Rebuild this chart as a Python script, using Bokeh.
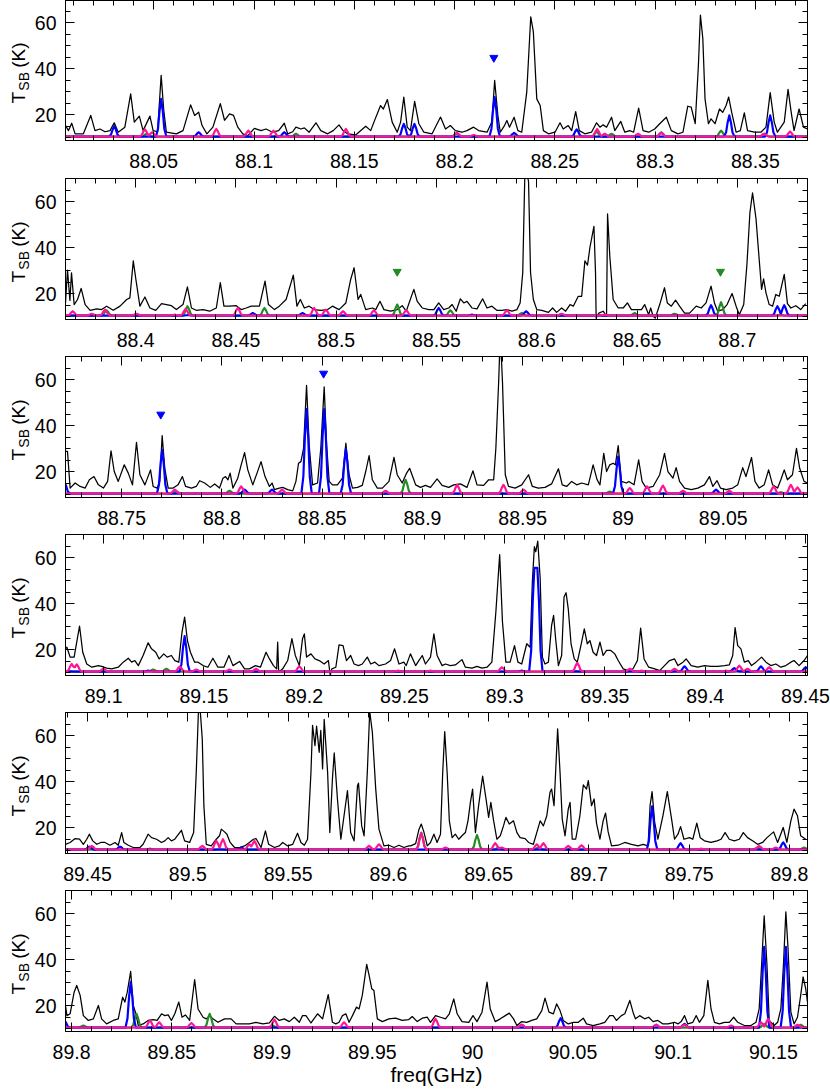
import math
import numpy as np
from bokeh.plotting import figure
from bokeh.models import (Range1d, LinearAxis, SingleIntervalTicker,
                          CustomJSTickFormatter)
from bokeh.core.properties import value
from bokeh.layouts import column, row
from bokeh.embed import file_html
from bokeh.resources import INLINE

FONT = "Liberation Sans"

# ---------------- data (freq in GHz, T_SB in K) ----------------
PANEL_START = [88.006, 88.365, 88.722, 89.081, 89.439, 89.797]
PANEL_SPAN = 0.37
MODEL_BASE = 10.4

SPEC_1 = [(88.0060, 15.2), (88.0075, 13.0), (88.0091, 16.2), (88.0108, 11.6), (88.0149, 11.6), (88.0186, 19.6), (88.0207, 13.0), (88.0232, 13.7), (88.0257, 12.5), (88.0282, 13.0),
          (88.0303, 16.4), (88.0323, 12.3), (88.0356, 14.5), (88.0385, 29.0), (88.0403, 16.7), (88.0428, 19.3), (88.0447, 13.0), (88.0481, 19.3), (88.0497, 13.0), (88.0519, 12.5),
          (88.0537, 37.0), (88.0550, 21.7), (88.0563, 12.3), (88.0613, 11.6), (88.0646, 13.0), (88.0684, 24.2), (88.0704, 19.6), (88.0724, 21.0), (88.0741, 15.2), (88.0765, 11.6),
          (88.0795, 14.5), (88.0832, 24.7), (88.0853, 17.5), (88.0878, 20.3), (88.0898, 19.6), (88.0919, 14.5), (88.0944, 11.6), (88.0969, 10.8), (88.1002, 14.0), (88.1035, 13.0),
          (88.1060, 13.7), (88.1093, 12.3), (88.1123, 13.0), (88.1151, 16.2), (88.1168, 11.6), (88.1193, 12.5), (88.1209, 14.5), (88.1234, 13.7), (88.1251, 14.2), (88.1275, 12.3),
          (88.1309, 16.4), (88.1333, 13.0), (88.1367, 11.6), (88.1395, 13.0), (88.1424, 15.5), (88.1444, 13.0), (88.1466, 11.6), (88.1507, 11.1), (88.1557, 14.9), (88.1582, 13.0),
          (88.1598, 16.7), (88.1631, 23.9), (88.1645, 22.4), (88.1665, 26.5), (88.1689, 16.7), (88.1714, 12.3), (88.1731, 16.7), (88.1747, 27.6), (88.1764, 14.5), (88.1780, 13.0),
          (88.1801, 25.7), (88.1822, 16.0), (88.1847, 12.3), (88.1888, 11.6), (88.1930, 18.9), (88.1955, 13.7), (88.1979, 15.2), (88.2004, 13.0), (88.2037, 12.3), (88.2062, 13.0),
          (88.2095, 14.5), (88.2120, 13.0), (88.2162, 12.3), (88.2186, 16.7), (88.2200, 34.8), (88.2216, 19.6), (88.2228, 12.3), (88.2249, 15.2), (88.2261, 17.4), (88.2274, 14.5),
          (88.2297, 18.8), (88.2316, 13.0), (88.2335, 12.3), (88.2360, 29.7), (88.2380, 62.5), (88.2393, 55.9), (88.2410, 26.8), (88.2427, 23.9), (88.2443, 13.0), (88.2468, 11.6),
          (88.2501, 12.3), (88.2526, 16.4), (88.2542, 13.7), (88.2567, 15.2), (88.2584, 13.0), (88.2604, 21.3), (88.2622, 13.0), (88.2650, 11.6), (88.2683, 12.3), (88.2708, 16.4),
          (88.2725, 14.5), (88.2741, 15.5), (88.2758, 14.5), (88.2783, 18.8), (88.2799, 13.0), (88.2829, 17.0), (88.2849, 12.3), (88.2874, 13.0), (88.2893, 12.3), (88.2918, 22.8),
          (88.2940, 13.0), (88.2968, 12.3), (88.2998, 13.7), (88.3023, 16.0), (88.3056, 18.8), (88.3081, 13.0), (88.3114, 11.6), (88.3139, 12.3), (88.3163, 23.6), (88.3180, 23.2),
          (88.3200, 16.0), (88.3216, 41.4), (88.3226, 63.2), (88.3238, 53.0), (88.3249, 26.8), (88.3266, 16.0), (88.3279, 18.1), (88.3299, 16.0), (88.3321, 22.4), (88.3337, 20.9),
          (88.3354, 23.9), (88.3367, 27.6), (88.3382, 20.9), (88.3404, 12.3), (88.3425, 13.0), (88.3445, 20.7), (88.3461, 13.0), (88.3495, 12.3), (88.3528, 12.3), (88.3553, 14.5),
          (88.3574, 29.5), (88.3594, 16.7), (88.3610, 12.3), (88.3644, 16.7), (88.3663, 30.9), (88.3680, 20.2), (88.3693, 13.0), (88.3718, 22.4), (88.3740, 14.5), (88.3760, 13.7)]

SPEC_2 = [(88.3650, 15.9), (88.3660, 30.2), (88.3672, 17.0), (88.3680, 29.0), (88.3693, 15.2), (88.3710, 17.4), (88.3728, 22.2), (88.3748, 15.2), (88.3773, 12.7), (88.3806, 13.3),
          (88.3830, 13.0), (88.3855, 14.5), (88.3888, 12.7), (88.3922, 14.5), (88.3955, 17.4), (88.3971, 18.1), (88.3988, 34.2), (88.4001, 26.1), (88.4021, 14.5), (88.4046, 18.5),
          (88.4071, 13.7), (88.4100, 12.7), (88.4129, 15.6), (88.4153, 15.2), (88.4178, 14.7), (88.4203, 13.0), (88.4236, 15.2), (88.4258, 22.9), (88.4278, 13.7), (88.4302, 12.7),
          (88.4336, 13.0), (88.4369, 12.3), (88.4402, 13.7), (88.4422, 24.7), (88.4440, 14.5), (88.4468, 14.5), (88.4501, 14.7), (88.4526, 13.0), (88.4551, 13.7), (88.4576, 14.5),
          (88.4617, 14.5), (88.4645, 25.4), (88.4662, 15.2), (88.4692, 13.0), (88.4716, 14.5), (88.4750, 17.4), (88.4786, 28.0), (88.4804, 14.5), (88.4821, 17.4), (88.4841, 13.7),
          (88.4865, 14.5), (88.4890, 13.0), (88.4923, 12.7), (88.4957, 13.0), (88.4981, 14.5), (88.5014, 13.0), (88.5048, 15.9), (88.5072, 26.1), (88.5089, 31.2), (88.5109, 17.4),
          (88.5122, 19.6), (88.5147, 13.0), (88.5180, 13.7), (88.5197, 13.0), (88.5218, 16.6), (88.5238, 13.0), (88.5271, 12.3), (88.5304, 13.0), (88.5329, 14.7), (88.5349, 12.3),
          (88.5387, 21.8), (88.5404, 16.6), (88.5429, 13.7), (88.5462, 13.0), (88.5487, 13.0), (88.5511, 15.9), (88.5536, 13.0), (88.5561, 13.7), (88.5578, 15.2), (88.5598, 12.3),
          (88.5619, 17.7), (88.5636, 15.9), (88.5652, 16.6), (88.5677, 13.7), (88.5702, 13.3), (88.5730, 17.7), (88.5752, 13.7), (88.5776, 14.5), (88.5801, 12.7), (88.5826, 12.7),
          (88.5851, 13.0), (88.5876, 12.3), (88.5901, 13.0), (88.5917, 15.9), (88.5930, 29.0), (88.5942, 78.0), (88.5959, 68.5), (88.5969, 29.0), (88.5983, 17.4), (88.6000, 13.0),
          (88.6025, 12.7), (88.6058, 11.8), (88.6079, 13.7), (88.6099, 11.8), (88.6124, 13.7), (88.6144, 12.3), (88.6166, 15.2), (88.6182, 14.5), (88.6207, 18.8), (88.6224, 18.8),
          (88.6240, 34.2), (88.6253, 32.3), (88.6265, 40.0), (88.6285, 49.2), (88.6293, 29.0), (88.6296, 9.3), (88.6310, 11.5), (88.6331, 12.3), (88.6348, 10.1), (88.6353, 54.6),
          (88.6364, 36.4), (88.6381, 17.4), (88.6406, 13.7), (88.6431, 13.7), (88.6452, 15.9), (88.6472, 13.0), (88.6497, 13.0), (88.6522, 13.0), (88.6538, 15.2), (88.6558, 10.8),
          (88.6568, 13.7), (88.6580, 10.1), (88.6591, 9.3), (88.6613, 15.2), (88.6637, 22.5), (88.6651, 15.9), (88.6671, 14.5), (88.6692, 17.1), (88.6712, 14.5), (88.6737, 11.5),
          (88.6762, 11.5), (88.6795, 14.5), (88.6820, 13.7), (88.6844, 15.9), (88.6869, 23.2), (88.6886, 15.9), (88.6902, 12.3), (88.6927, 13.0), (88.6949, 15.2), (88.6974, 20.0),
          (88.6994, 14.5), (88.7010, 10.8), (88.7032, 15.2), (88.7048, 32.7), (88.7063, 55.3), (88.7076, 63.8), (88.7093, 52.7), (88.7109, 34.9), (88.7121, 21.8), (88.7131, 26.4),
          (88.7143, 20.3), (88.7159, 15.2), (88.7176, 14.5), (88.7192, 19.6), (88.7209, 18.8), (88.7234, 28.3), (88.7250, 15.6), (88.7267, 13.7), (88.7292, 14.7), (88.7316, 13.0),
          (88.7341, 15.6)]

SPEC_3 = [(88.7220, 28.7), (88.7230, 28.7), (88.7243, 12.8), (88.7268, 15.0), (88.7293, 13.5), (88.7318, 12.8), (88.7339, 16.4), (88.7362, 17.8), (88.7384, 14.2), (88.7409, 12.8),
          (88.7430, 15.7), (88.7447, 29.0), (88.7463, 20.0), (88.7483, 15.7), (88.7513, 22.9), (88.7533, 19.3), (88.7554, 14.2), (88.7574, 32.7), (88.7591, 18.6), (88.7616, 14.2),
          (88.7644, 20.7), (88.7657, 13.5), (88.7677, 12.8), (88.7690, 15.7), (88.7702, 35.6), (88.7715, 21.4), (88.7732, 12.8), (88.7757, 12.8), (88.7781, 14.2), (88.7803, 17.8),
          (88.7819, 13.5), (88.7848, 12.8), (88.7872, 13.5), (88.7889, 16.0), (88.7914, 15.0), (88.7942, 13.1), (88.7964, 14.6), (88.7988, 12.8), (88.8005, 17.1), (88.8018, 17.8),
          (88.8030, 16.4), (88.8041, 19.3), (88.8055, 12.8), (88.8079, 17.1), (88.8096, 22.9), (88.8113, 28.2), (88.8129, 20.7), (88.8154, 14.2), (88.8175, 19.3), (88.8195, 24.3),
          (88.8215, 17.8), (88.8237, 13.5), (88.8250, 15.0), (88.8262, 12.1), (88.8286, 12.8), (88.8303, 13.1), (88.8328, 12.1), (88.8353, 11.6), (88.8369, 15.7), (88.8382, 23.6),
          (88.8394, 24.3), (88.8407, 30.1), (88.8422, 57.5), (88.8435, 31.6), (88.8452, 14.2), (88.8477, 15.0), (88.8493, 30.1), (88.8510, 56.8), (88.8522, 31.6), (88.8535, 15.7),
          (88.8551, 14.2), (88.8576, 14.2), (88.8601, 17.1), (88.8618, 32.3), (88.8634, 18.6), (88.8651, 12.8), (88.8676, 13.1), (88.8700, 14.0), (88.8717, 20.0), (88.8734, 26.9),
          (88.8750, 16.4), (88.8775, 12.8), (88.8800, 12.8), (88.8833, 15.7), (88.8858, 26.1), (88.8874, 18.6), (88.8899, 15.0), (88.8921, 19.3), (88.8936, 21.4), (88.8957, 16.4),
          (88.8966, 14.2), (88.8990, 13.1), (88.9015, 14.0), (88.9040, 13.1), (88.9073, 16.8), (88.9098, 14.0), (88.9131, 13.1), (88.9156, 14.2), (88.9189, 14.6), (88.9222, 13.1),
          (88.9252, 20.3), (88.9272, 14.2), (88.9305, 14.0), (88.9330, 16.4), (88.9355, 16.4), (88.9366, 30.1), (88.9380, 59.0), (88.9388, 80.0), (88.9399, 59.0), (88.9413, 18.6),
          (88.9429, 13.5), (88.9462, 12.8), (88.9495, 14.2), (88.9529, 18.6), (88.9548, 13.5), (88.9578, 12.8), (88.9611, 13.1), (88.9644, 14.6), (88.9678, 21.2), (88.9697, 14.2),
          (88.9719, 13.5), (88.9744, 15.7), (88.9769, 14.2), (88.9794, 15.0), (88.9827, 14.2), (88.9851, 22.9), (88.9871, 16.4), (88.9885, 14.2), (88.9904, 27.9), (88.9918, 20.0),
          (88.9934, 22.9), (88.9951, 23.6), (88.9962, 22.9), (88.9976, 31.3), (88.9992, 15.7), (89.0017, 15.0), (89.0029, 15.7), (89.0055, 14.2), (89.0078, 25.1), (89.0095, 15.7),
          (89.0116, 12.8), (89.0150, 13.5), (89.0183, 18.6), (89.0207, 27.9), (89.0224, 20.0), (89.0249, 17.1), (89.0265, 21.7), (89.0282, 15.7), (89.0307, 12.8), (89.0340, 12.1),
          (89.0373, 12.8), (89.0406, 14.2), (89.0431, 17.8), (89.0448, 13.5), (89.0469, 16.0), (89.0486, 12.8), (89.0514, 12.1), (89.0547, 12.8), (89.0572, 14.2), (89.0597, 21.7),
          (89.0613, 17.8), (89.0641, 26.1), (89.0658, 15.7), (89.0679, 12.8), (89.0704, 14.2), (89.0726, 20.7), (89.0746, 14.2), (89.0771, 12.8), (89.0787, 16.4), (89.0804, 20.7),
          (89.0820, 16.4), (89.0845, 18.6), (89.0865, 30.1), (89.0881, 21.4), (89.0903, 15.7), (89.0920, 15.0)]

SPEC_4 = [(89.0810, 20.3), (89.0817, 21.0), (89.0833, 16.7), (89.0853, 16.7), (89.0866, 23.2), (89.0880, 30.2), (89.0896, 18.8), (89.0916, 13.7), (89.0941, 12.3), (89.0974, 13.0),
          (89.0990, 12.7), (89.1015, 11.9), (89.1040, 11.6), (89.1073, 12.3), (89.1098, 14.5), (89.1123, 16.2), (89.1140, 14.5), (89.1156, 15.2), (89.1173, 13.0), (89.1197, 17.4),
          (89.1222, 22.9), (89.1239, 20.3), (89.1260, 18.8), (89.1277, 15.9), (89.1300, 18.1), (89.1317, 16.7), (89.1338, 17.4), (89.1355, 15.2), (89.1375, 14.5), (89.1391, 27.6),
          (89.1404, 34.1), (89.1418, 23.9), (89.1433, 18.8), (89.1454, 14.5), (89.1471, 14.5), (89.1496, 13.0), (89.1520, 12.3), (89.1545, 16.2), (89.1570, 12.3), (89.1600, 12.3),
          (89.1625, 17.4), (89.1645, 13.0), (89.1678, 14.8), (89.1703, 11.6), (89.1727, 11.6), (89.1757, 13.0), (89.1782, 12.3), (89.1810, 18.8), (89.1827, 15.9), (89.1847, 13.0),
          (89.1863, 11.6), (89.1868, 23.2), (89.1873, 10.1), (89.1893, 11.6), (89.1918, 15.2), (89.1939, 24.7), (89.1956, 17.4), (89.1976, 13.0), (89.1992, 24.7), (89.2001, 26.8),
          (89.2012, 16.7), (89.2034, 18.1), (89.2054, 15.9), (89.2075, 15.2), (89.2100, 13.7), (89.2121, 15.2), (89.2130, 8.7), (89.2138, 11.6), (89.2158, 12.3), (89.2174, 22.0),
          (89.2194, 21.7), (89.2211, 15.2), (89.2232, 17.4), (89.2249, 13.7), (89.2271, 13.0), (89.2290, 13.7), (89.2315, 16.7), (89.2332, 13.7), (89.2353, 14.5), (89.2373, 13.0),
          (89.2406, 13.7), (89.2431, 15.2), (89.2451, 20.3), (89.2473, 13.7), (89.2497, 14.5), (89.2509, 13.0), (89.2530, 18.1), (89.2556, 13.0), (89.2572, 15.2), (89.2589, 17.4),
          (89.2605, 13.7), (89.2630, 16.7), (89.2647, 26.8), (89.2663, 17.4), (89.2688, 13.0), (89.2705, 13.7), (89.2729, 13.0), (89.2754, 13.3), (89.2787, 15.6), (89.2804, 12.3),
          (89.2837, 11.9), (89.2862, 12.7), (89.2887, 11.9), (89.2912, 12.3), (89.2936, 14.5), (89.2956, 36.3), (89.2975, 61.3), (89.2989, 31.9), (89.3006, 14.5), (89.3027, 14.5),
          (89.3049, 21.7), (89.3066, 14.5), (89.3085, 13.7), (89.3110, 22.5), (89.3127, 21.0), (89.3138, 49.4), (89.3148, 64.7), (89.3155, 62.5), (89.3165, 67.1), (89.3177, 50.8),
          (89.3188, 16.7), (89.3201, 13.7), (89.3218, 14.5), (89.3234, 30.5), (89.3244, 34.8), (89.3254, 24.7), (89.3268, 13.0), (89.3284, 17.4), (89.3296, 42.8), (89.3306, 44.7),
          (89.3317, 37.7), (89.3331, 22.5), (89.3347, 15.9), (89.3362, 14.5), (89.3380, 21.7), (89.3397, 29.0), (89.3412, 22.5), (89.3425, 23.9), (89.3441, 18.8), (89.3458, 17.4),
          (89.3475, 23.2), (89.3491, 17.4), (89.3508, 19.6), (89.3529, 19.6), (89.3549, 18.1), (89.3566, 15.2), (89.3591, 11.6), (89.3615, 10.8), (89.3640, 11.6), (89.3662, 15.2),
          (89.3678, 29.3), (89.3695, 15.9), (89.3718, 12.3), (89.3748, 11.6), (89.3773, 10.8), (89.3797, 13.0), (89.3822, 15.2), (89.3847, 15.9), (89.3864, 13.0), (89.3889, 14.5),
          (89.3905, 15.9), (89.3930, 13.0), (89.3963, 12.3), (89.3996, 13.0), (89.4029, 12.7), (89.4062, 12.7), (89.4096, 13.0), (89.4120, 13.3), (89.4137, 17.4), (89.4149, 29.5),
          (89.4162, 21.7), (89.4178, 20.3), (89.4195, 14.5), (89.4215, 15.2), (89.4231, 13.0), (89.4253, 14.5), (89.4281, 16.7), (89.4303, 14.5), (89.4327, 13.0), (89.4352, 13.7),
          (89.4377, 12.3), (89.4402, 13.0), (89.4427, 14.5), (89.4443, 15.2), (89.4468, 13.0), (89.4493, 15.2), (89.4510, 17.4)]

SPEC_5 = [(89.4390, 12.7), (89.4413, 13.5), (89.4438, 15.2), (89.4460, 14.9), (89.4479, 12.7), (89.4496, 14.9), (89.4509, 17.1), (89.4526, 14.2), (89.4546, 12.7), (89.4566, 13.5),
          (89.4587, 13.5), (89.4612, 12.3), (89.4637, 13.5), (89.4653, 12.3), (89.4670, 17.8), (89.4681, 13.5), (89.4703, 12.3), (89.4728, 11.3), (89.4761, 11.3), (89.4777, 12.7),
          (89.4802, 17.1), (89.4819, 15.6), (89.4844, 14.9), (89.4869, 13.5), (89.4885, 14.2), (89.4902, 15.6), (89.4918, 14.2), (89.4935, 14.9), (89.4968, 18.8), (89.4984, 14.2),
          (89.5009, 13.5), (89.5029, 17.8), (89.5042, 44.0), (89.5056, 78.0), (89.5072, 58.5), (89.5080, 29.5), (89.5092, 12.7), (89.5117, 12.0), (89.5142, 14.9), (89.5158, 16.4),
          (89.5167, 19.3), (89.5183, 18.1), (89.5195, 17.1), (89.5211, 13.5), (89.5233, 11.3), (89.5258, 11.3), (89.5283, 12.0), (89.5307, 13.5), (89.5327, 14.9), (89.5340, 15.2),
          (89.5365, 11.3), (89.5387, 18.5), (89.5403, 12.7), (89.5432, 11.3), (89.5456, 12.0), (89.5473, 13.5), (89.5498, 12.0), (89.5523, 12.7), (89.5547, 17.5), (89.5564, 13.5),
          (89.5581, 12.3), (89.5597, 14.9), (89.5614, 44.0), (89.5622, 64.4), (89.5634, 55.6), (89.5642, 64.1), (89.5655, 52.7), (89.5663, 62.2), (89.5672, 45.5), (89.5680, 67.0),
          (89.5697, 44.0), (89.5708, 17.8), (89.5721, 41.1), (89.5730, 52.4), (89.5746, 32.4), (89.5763, 14.9), (89.5779, 25.1), (89.5796, 36.0), (89.5812, 17.8), (89.5829, 14.2),
          (89.5846, 38.2), (89.5851, 39.3), (89.5867, 20.7), (89.5879, 16.4), (89.5895, 44.0), (89.5907, 70.5), (89.5920, 61.5), (89.5937, 36.7), (89.5953, 19.3), (89.5978, 12.0),
          (89.6003, 12.3), (89.6028, 11.3), (89.6053, 12.3), (89.6077, 11.3), (89.6102, 12.0), (89.6111, 12.0), (89.6136, 13.0), (89.6152, 19.0), (89.6164, 21.5), (89.6177, 18.1),
          (89.6194, 12.0), (89.6210, 13.5), (89.6227, 17.1), (89.6243, 13.5), (89.6260, 17.1), (89.6271, 44.0), (89.6281, 61.7), (89.6293, 44.0), (89.6304, 22.9), (89.6318, 15.6),
          (89.6334, 17.1), (89.6351, 14.9), (89.6367, 16.4), (89.6384, 17.8), (89.6397, 22.9), (89.6409, 30.9), (89.6420, 36.7), (89.6434, 17.8), (89.6450, 29.5), (89.6470, 42.3),
          (89.6487, 32.4), (89.6500, 24.4), (89.6511, 30.9), (89.6525, 22.9), (89.6541, 14.9), (89.6558, 16.4), (89.6574, 20.7), (89.6586, 24.4), (89.6603, 21.5), (89.6624, 22.9),
          (89.6641, 17.8), (89.6657, 15.6), (89.6682, 15.2), (89.6699, 13.5), (89.6723, 12.7), (89.6740, 17.8), (89.6757, 22.9), (89.6773, 20.7), (89.6790, 25.1), (89.6806, 35.3),
          (89.6814, 36.7), (89.6826, 29.5), (89.6834, 44.0), (89.6844, 62.9), (89.6856, 44.0), (89.6867, 23.6), (89.6881, 16.4), (89.6897, 28.0), (89.6906, 30.9), (89.6917, 14.9),
          (89.6934, 14.9), (89.6955, 25.1), (89.6972, 38.5), (89.6988, 36.7), (89.6997, 40.4), (89.7013, 29.5), (89.7026, 32.4), (89.7038, 21.8), (89.7055, 14.9), (89.7071, 22.9),
          (89.7083, 26.3), (89.7096, 18.1), (89.7113, 12.0), (89.7146, 12.3), (89.7179, 13.5), (89.7212, 12.7), (89.7245, 12.0), (89.7270, 12.7), (89.7295, 12.0), (89.7305, 29.5),
          (89.7315, 35.6), (89.7328, 22.2), (89.7344, 14.9), (89.7369, 25.1), (89.7391, 35.6), (89.7411, 24.4), (89.7427, 14.9), (89.7444, 17.1), (89.7457, 20.4), (89.7474, 14.9),
          (89.7502, 15.6), (89.7518, 14.9), (89.7538, 21.9), (89.7555, 15.6), (89.7576, 14.2), (89.7609, 13.5), (89.7639, 14.2), (89.7659, 14.9), (89.7679, 17.8), (89.7700, 14.9),
          (89.7725, 14.2), (89.7750, 14.9), (89.7770, 17.8), (89.7791, 15.6), (89.7816, 14.2), (89.7841, 12.7), (89.7866, 13.5), (89.7888, 15.6), (89.7921, 18.1), (89.7941, 13.5),
          (89.7969, 20.0), (89.7987, 13.5), (89.8007, 22.9), (89.8023, 28.0), (89.8040, 25.1), (89.8056, 16.4), (89.8081, 14.9)]

SPEC_6 = [(89.7970, 20.0), (89.7977, 15.6), (89.7993, 16.4), (89.8013, 25.8), (89.8026, 28.7), (89.8043, 24.4), (89.8059, 15.6), (89.8084, 13.5), (89.8109, 14.2), (89.8134, 20.0),
          (89.8150, 14.2), (89.8175, 12.0), (89.8208, 13.5), (89.8233, 14.2), (89.8255, 23.6), (89.8266, 21.5), (89.8278, 25.8), (89.8295, 34.8), (89.8308, 20.0), (89.8321, 16.4),
          (89.8333, 11.3), (89.8357, 12.0), (89.8382, 13.5), (89.8407, 13.9), (89.8427, 13.5), (89.8449, 16.4), (89.8465, 15.6), (89.8482, 15.9), (89.8498, 13.5), (89.8515, 16.4),
          (89.8535, 21.5), (89.8551, 14.9), (89.8568, 15.9), (89.8589, 13.5), (89.8614, 31.3), (89.8631, 18.5), (89.8656, 14.9), (89.8672, 14.2), (89.8689, 15.6), (89.8705, 14.2),
          (89.8730, 12.7), (89.8763, 14.2), (89.8796, 14.2), (89.8821, 12.0), (89.8854, 12.0), (89.8887, 12.0), (89.8920, 12.7), (89.8954, 12.0), (89.8987, 12.4), (89.9012, 15.3),
          (89.9036, 13.5), (89.9061, 14.2), (89.9086, 13.0), (89.9111, 14.9), (89.9136, 12.7), (89.9152, 15.6), (89.9169, 15.6), (89.9194, 12.4), (89.9227, 16.4), (89.9252, 14.2),
          (89.9280, 24.7), (89.9301, 12.7), (89.9318, 12.0), (89.9334, 12.7), (89.9351, 15.6), (89.9368, 16.4), (89.9384, 12.7), (89.9401, 15.6), (89.9421, 19.3), (89.9434, 18.5),
          (89.9450, 24.4), (89.9472, 37.9), (89.9484, 33.1), (89.9497, 27.3), (89.9508, 26.5), (89.9525, 14.2), (89.9550, 13.0), (89.9583, 14.2), (89.9616, 14.5), (89.9649, 13.5),
          (89.9682, 13.9), (89.9699, 15.2), (89.9724, 13.0), (89.9749, 14.5), (89.9774, 14.9), (89.9790, 12.7), (89.9815, 15.6), (89.9840, 14.9), (89.9865, 14.2), (89.9884, 16.4),
          (89.9906, 22.9), (89.9923, 16.4), (89.9947, 13.0), (89.9981, 12.7), (90.0002, 15.6), (90.0022, 13.0), (90.0047, 17.1), (90.0072, 30.2), (90.0088, 18.5), (90.0113, 13.0),
          (90.0138, 14.2), (90.0163, 15.6), (90.0183, 16.7), (90.0204, 14.2), (90.0221, 11.3), (90.0245, 13.0), (90.0270, 12.7), (90.0295, 13.5), (90.0320, 14.2), (90.0345, 17.8),
          (90.0361, 23.2), (90.0381, 17.1), (90.0403, 16.4), (90.0419, 20.7), (90.0436, 17.8), (90.0452, 13.5), (90.0477, 12.0), (90.0502, 12.7), (90.0527, 12.7), (90.0552, 14.5),
          (90.0568, 12.0), (90.0601, 11.3), (90.0635, 12.0), (90.0659, 12.7), (90.0684, 15.6), (90.0701, 15.6), (90.0717, 13.5), (90.0742, 15.6), (90.0759, 16.4), (90.0784, 22.2),
          (90.0800, 17.1), (90.0812, 14.2), (90.0833, 15.6), (90.0858, 14.2), (90.0878, 14.9), (90.0900, 13.0), (90.0924, 13.5), (90.0949, 12.0), (90.0974, 12.0), (90.1007, 12.7),
          (90.1024, 12.0), (90.1040, 13.0), (90.1057, 15.6), (90.1073, 12.0), (90.1098, 12.7), (90.1115, 15.6), (90.1131, 12.7), (90.1153, 15.6), (90.1173, 30.9), (90.1189, 18.5),
          (90.1206, 12.7), (90.1231, 12.0), (90.1256, 12.7), (90.1280, 12.7), (90.1302, 14.9), (90.1322, 12.7), (90.1355, 11.3), (90.1388, 11.3), (90.1413, 12.7), (90.1429, 18.5),
          (90.1441, 37.5), (90.1454, 59.0), (90.1468, 37.5), (90.1479, 13.5), (90.1504, 11.3), (90.1521, 12.7), (90.1537, 18.5), (90.1550, 37.5), (90.1562, 60.7), (90.1573, 44.7),
          (90.1587, 17.1), (90.1603, 12.0), (90.1620, 14.9), (90.1636, 24.4), (90.1648, 32.4), (90.1661, 27.3), (90.1670, 21.5)]

# model line peaks: (freq, T) or (freq_start, T, freq_end) for a flat-topped line
BLUE_1 = [(88.0303, 14.9), (88.0537, 26.8), (88.0724, 12.3), (88.1151, 12.3), (88.1747, 15.9), (88.1800, 15.9),
          (88.2200, 27.6), (88.2297, 12.0), (88.2609, 13.5), (88.3370, 19.6), (88.3574, 19.6)]
GREEN_1 = [(88.0464, 11.6), (88.1209, 11.6), (88.2009, 11.9), (88.2708, 12.6), (88.2783, 11.6), (88.3031, 12.3),
           (88.3329, 13.0), (88.3544, 11.6)]
MAGENTA_1 = [(88.0456, 13.5), (88.0492, 12.3), (88.0812, 13.7), (88.0972, 13.0), (88.1097, 13.0), (88.1458, 13.7),
             (88.2013, 12.0), (88.2095, 11.1), (88.2711, 13.7), (88.2749, 11.6), (88.2915, 11.6), (88.3031, 12.0),
             (88.3544, 11.6), (88.3673, 12.6)]

BLUE_2 = [(88.4261, 10.6), (88.4584, 11.5), (88.4832, 11.5), (88.5511, 13.7), (88.5677, 10.8), (88.5947, 12.3),
          (88.6869, 14.9), (88.7200, 14.5), (88.7234, 14.9)]
GREEN_2 = [(88.3855, 12.7), (88.4258, 14.5), (88.4642, 13.7), (88.5304, 15.2), (88.5569, 12.7), (88.5925, 11.5),
           (88.6488, 11.5), (88.6687, 11.2), (88.6919, 16.2), (88.7217, 10.8)]
MAGENTA_2 = [(88.3686, 12.3), (88.3781, 11.2), (88.3847, 13.0), (88.4004, 11.2), (88.4195, 10.8), (88.4249, 13.3),
             (88.4509, 13.7), (88.4890, 13.7), (88.4948, 13.0), (88.5034, 12.3), (88.5188, 12.7), (88.5349, 12.7),
             (88.5851, 12.7), (88.6124, 11.2), (88.6339, 10.8)]

BLUE_3 = [(88.7215, 15.4), (88.7702, 29.4), (88.8113, 12.1), (88.8250, 12.1), (88.8422, 47.1), (88.8510, 47.1),
          (88.8618, 29.8), (88.9976, 26.5), (89.0464, 12.1)]
GREEN_3 = [(88.7773, 11.3), (88.8038, 11.6), (88.8916, 16.4), (88.9934, 11.3), (89.0787, 11.0)]
MAGENTA_3 = [(88.7765, 12.1), (88.8096, 13.5), (88.8300, 12.1), (88.8816, 11.6), (88.9173, 14.2), (88.9404, 14.2),
             (88.9504, 12.1), (89.0034, 12.8), (89.0120, 13.5), (89.0199, 13.9), (89.0299, 11.6), (89.0530, 11.6),
             (89.0751, 13.5), (89.0837, 14.2), (89.0870, 13.1)]

BLUE_4 = [(89.1222, 10.8), (89.1404, 25.8), (89.3085, 10.8), (89.3148, 55.5, 89.3163), (89.3897, 12.7),
          (89.4145, 11.9), (89.4278, 12.7), (89.4501, 12.3)]
GREEN_4 = [(89.0833, 10.6), (89.1247, 11.3), (89.1313, 11.6), (89.3359, 10.6), (89.3632, 10.8), (89.3855, 10.8),
           (89.4178, 10.8)]
MAGENTA_4 = [(89.0841, 13.7), (89.0866, 13.5), (89.0999, 11.6), (89.1380, 12.6), (89.1462, 11.3), (89.1628, 11.3),
             (89.1760, 11.6), (89.1976, 12.7), (89.2469, 10.8), (89.2630, 10.8), (89.2986, 12.3), (89.3362, 14.2),
             (89.3624, 11.6), (89.3682, 10.8), (89.3847, 11.6), (89.4104, 10.8), (89.4170, 13.0), (89.4211, 11.6),
             (89.4319, 12.3)]

BLUE_5 = [(89.4509, 11.7), (89.4662, 11.7), (89.5266, 11.3), (89.7315, 29.2), (89.7457, 13.2), (89.7969, 13.5)]
GREEN_5 = [(89.4811, 10.8), (89.5158, 10.6), (89.6164, 17.8), (89.6442, 16.7), (89.6550, 11.3), (89.6748, 11.3),
           (89.7841, 11.3), (89.8073, 11.3)]
MAGENTA_5 = [(89.4521, 12.0), (89.5072, 12.0), (89.5142, 14.2), (89.5175, 14.9), (89.5307, 12.7), (89.5332, 14.2),
             (89.5904, 12.0), (89.5953, 12.7), (89.6164, 17.5), (89.6285, 11.3), (89.6533, 13.2), (89.6566, 11.3),
             (89.6740, 12.7), (89.6773, 13.2), (89.6897, 12.0), (89.6963, 12.3), (89.7560, 10.8), (89.7849, 12.0),
             (89.7932, 11.3)]

BLUE_6 = [(89.7965, 13.5), (89.8295, 30.2), (90.0439, 14.5), (90.1057, 12.0), (90.1454, 45.5), (90.1562, 45.5)]
GREEN_6 = [(89.8059, 11.3), (89.8324, 16.4), (89.8689, 16.4), (89.9003, 11.3), (90.0245, 11.6), (90.0916, 11.6),
           (90.1454, 12.0), (90.1636, 11.6)]
MAGENTA_6 = [(89.8391, 13.5), (89.8437, 12.7), (89.8598, 12.4), (89.9012, 13.9), (89.9359, 12.7), (89.9815, 14.2),
             (90.0245, 11.7), (90.0916, 11.6), (90.1057, 11.6), (90.1289, 11.3), (90.1438, 12.7), (90.1474, 14.2),
             (90.1620, 11.6)]

MARK_BLUE = [(88.2196, 44.7), (88.7695, 44.8), (88.8507, 62.6)]
MARK_GREEN = [(88.5304, 29.5), (88.6916, 29.5)]

Y_TITLE = ["T", "SB", "(K)"]

SPECTRA = [SPEC_1, SPEC_2, SPEC_3, SPEC_4, SPEC_5, SPEC_6]
BLUES = [BLUE_1, BLUE_2, BLUE_3, BLUE_4, BLUE_5, BLUE_6]
GREENS = [GREEN_1, GREEN_2, GREEN_3, GREEN_4, GREEN_5, GREEN_6]
MAGENTAS = [MAGENTA_1, MAGENTA_2, MAGENTA_3, MAGENTA_4, MAGENTA_5, MAGENTA_6]

# ---------------- styling / layout ----------------
C_BLUE = "#0000ff"
C_GREEN = "#228b22"
C_MAGENTA = "#ff1493"

PAGE_H = 1092
STRIP_W = 31
PANEL_W = 830 - STRIP_W
# (figure height, top border, bottom border, y max) per panel
PANEL_GEOM = [(176, 0, 36, 69.57), (178, 2, 35, 70.0), (178, 2, 35, 70.0),
              (178, 2, 35, 70.0), (178, 2, 35, 70.0), (204, 2, 61, 70.0)]
FRAME_TOPS = [-1, 178, 356, 534, 712, 890]   # page row of each frame's 70 K level

# line-profile shape used to draw each model line (offsets in GHz, fraction of height)
DX = np.array([-0.0026, -0.0016, -0.0008, 0.0, 0.0008, 0.0016, 0.0026])
FR = np.array([0.0, 0.2, 0.68, 1.0, 0.68, 0.2, 0.0])


def model_curve(peaks, lo, hi):
    xs = [lo, hi]
    for pk in peaks:
        f0 = pk[0]
        f1 = pk[2] if len(pk) > 2 else pk[0]
        xs.extend(f0 + DX[:4])
        xs.extend(f1 + DX[3:])
    xs = np.unique(np.round(np.array(xs), 6))
    ys = np.full(xs.shape, MODEL_BASE)
    for pk in peaks:
        f0, t = pk[0], pk[1]
        f1 = pk[2] if len(pk) > 2 else pk[0]
        d = np.where(xs < f0, xs - f0, np.where(xs > f1, xs - f1, 0.0))
        prof = np.interp(d, DX, FR, left=0.0, right=0.0)
        ys = np.maximum(ys, MODEL_BASE + (t - MODEL_BASE) * prof)
    return xs, ys


def style_axis(ax, labels):
    ax.axis_line_color = "black"
    ax.axis_line_width = 1
    ax.major_tick_line_color = "black"
    ax.minor_tick_line_color = "black"
    ax.major_tick_in = 9
    ax.major_tick_out = 0
    ax.minor_tick_in = 5
    ax.minor_tick_out = 0
    ax.major_label_text_font = FONT
    if labels:
        ax.major_label_text_font_size = "19.5px"
        ax.major_label_text_color = "black"
    else:
        ax.major_label_text_font_size = "1px"
        ax.major_label_text_color = None
        ax.major_label_text_alpha = 0
        ax.major_label_standoff = 0


def make_panel(i):
    lo = PANEL_START[i]
    hi = lo + PANEL_SPAN
    height, tb, bb, ytop = PANEL_GEOM[i]
    last = i == 5

    p = figure(width=PANEL_W, height=height, x_range=Range1d(lo, hi), y_range=Range1d(8.7, ytop),
               output_backend="svg", toolbar_location=None,
               min_border_left=62 - STRIP_W, min_border_right=23, min_border_top=tb, min_border_bottom=bb,
               background_fill_color="white", border_fill_color="white")
    p.grid.visible = False
    p.outline_line_color = "black"
    p.outline_line_width = 1

    xa = p.xaxis[0]
    ya = p.yaxis[0]
    xa.ticker = SingleIntervalTicker(interval=0.05, num_minor_ticks=5)
    xa.formatter = CustomJSTickFormatter(code="return tick.toFixed(2).replace(/\\.?0+$/, '');")
    ya.ticker = SingleIntervalTicker(interval=20, num_minor_ticks=4)
    style_axis(xa, True)
    style_axis(ya, True)
    xa.major_label_standoff = 13
    ya.major_label_standoff = 9

    if last:
        xa.axis_label = "freq(GHz)"
        xa.axis_label_text_font = FONT
        xa.axis_label_text_font_size = "21px"
        xa.axis_label_text_font_style = "normal"
        xa.axis_label_text_color = "black"
        xa.axis_label_standoff = 1

    top = LinearAxis(ticker=SingleIntervalTicker(interval=0.05, num_minor_ticks=5))
    style_axis(top, False)
    p.add_layout(top, "above")
    right = LinearAxis(ticker=SingleIntervalTicker(interval=20, num_minor_ticks=4))
    style_axis(right, False)
    p.add_layout(right, "right")

    fx, ft = zip(*SPECTRA[i])
    p.line(list(fx), list(ft), line_color="black", line_width=1.25, line_join="round")

    for peaks, col in ((GREENS[i], C_GREEN), (BLUES[i], C_BLUE), (MAGENTAS[i], C_MAGENTA)):
        mx, my = model_curve(peaks, lo, hi)
        p.line(mx, my, line_color=col, line_width=2.2, line_join="round")

    for marks, col in ((MARK_BLUE, C_BLUE), (MARK_GREEN, C_GREEN)):
        sel = [m for m in marks if lo < m[0] < hi]
        if sel:
            sx, sy = zip(*sel)
            p.scatter(list(sx), list(sy), marker="inverted_triangle", size=8,
                      fill_color=col, line_color=col)
    return p


def make_title_strip():
    # narrow strip on the left carrying the rotated y-axis titles T_SB(K);
    # each piece is right-aligned so it ends at its anchor (reading bottom to top)
    s = figure(width=STRIP_W, height=PAGE_H, x_range=Range1d(0, STRIP_W), y_range=Range1d(0, PAGE_H),
               output_backend="svg", toolbar_location=None, min_border=0,
               x_axis_location=None, y_axis_location=None, outline_line_color=None,
               background_fill_color="white", border_fill_color="white")
    s.grid.visible = False
    # (text, baseline x, px below the 70 K level where the piece ends, font size)
    pieces = [(Y_TITLE[0], 18.0, 92.5, "19px"), (Y_TITLE[1], 23.0, 72.5, "14px"), (Y_TITLE[2], 18.0, 43.0, "19px")]
    for txt, xb, dy, fs in pieces:
        ys = [PAGE_H - (t + dy) for t in FRAME_TOPS]
        s.text(x=[xb] * len(ys), y=ys, text=[txt] * len(ys), angle=math.pi / 2,
               text_font=value(FONT), text_font_size=value(fs), text_color="black",
               text_align="right", text_baseline="alphabetic")
    return s


panels = [make_panel(i) for i in range(6)]
layout = row(make_title_strip(), column(*panels, spacing=0), spacing=0)

open("out.html", "w").write(file_html(layout, INLINE))
